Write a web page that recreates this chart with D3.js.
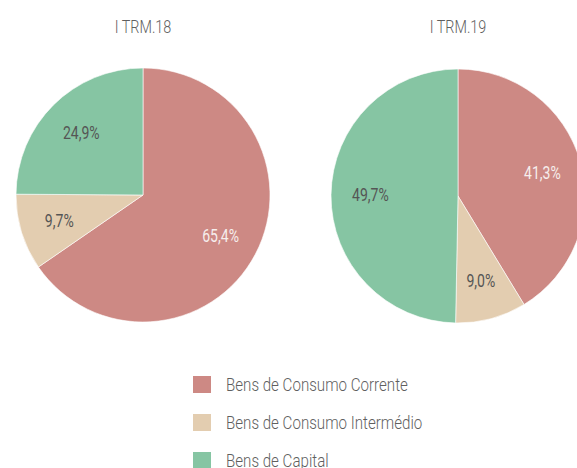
<!DOCTYPE html>
<html>
<head>
    <meta charset="utf-8">
    <script src="https://d3js.org/d3.v7.min.js"></script>
    <title>Bens importados</title>
</head>
<style>
    body { margin: 0; background: #fff; }
    text { font-family: 'Roboto'; font-weight: 300; }
    .lbl { font-weight: 400; }
</style>
<body>
<div id="chart"></div>
</body>
</html>

<script>
  // DATA
  var categories = ["Bens de Consumo Corrente", "Bens de Consumo Intermédio", "Bens de Capital"];
  var periods = ["I TRM.18", "I TRM.19"];
  var values18 = [65.4, 9.7, 24.9];
  var values19 = [41.3, 9.0, 49.7];
  var colors = ["#cd8984", "#e3cdb0", "#86c5a3"];
  var labelColors = ["#f6eeec", "#555555", "#555555"];

  var W = 577, H = 468, R = 127, SX = 0.8;

  var svg = d3.select("#chart").append("svg")
      .attr("width", W)
      .attr("height", H);

  var color = d3.scaleOrdinal().domain(categories).range(colors);
  var labelColor = d3.scaleOrdinal().domain(categories).range(labelColors);

  var pie = d3.pie().sort(null).value(function(d) { return d.value; });
  var arc = d3.arc().innerRadius(0).outerRadius(R);
  var labelArc = d3.arc().innerRadius(R * 0.69).outerRadius(R * 0.69);

  // condensed-looking text: squeeze horizontally
  function squeezeText(g, x, y, txt, size, fill, sx, cls) {
      g.append("g")
          .attr("transform", "translate(" + x + "," + y + ") scale(" + sx + ",1)")
        .append("text")
          .attr("class", cls || null)
          .attr("text-anchor", "middle")
          .attr("dy", "0.35em")
          .style("font-size", size + "px")
          .style("fill", fill)
          .text(txt);
  }

  var pies = [
      { title: periods[0], cx: 143, cy: 195, values: values18 },
      { title: periods[1], cx: 458, cy: 196, values: values19 }
  ];

  pies.forEach(function(p) {
      var data = categories.map(function(c, i) { return { cat: c, value: p.values[i] }; });
      var g = svg.append("g").attr("transform", "translate(" + p.cx + "," + p.cy + ")");

      g.selectAll("path")
          .data(pie(data))
          .enter()
          .append("path")
          .attr("d", arc)
          .attr("fill", function(d) { return color(d.data.cat); })
          .attr("stroke", "#fff")
          .attr("stroke-width", 0.6);

      pie(data).forEach(function(d) {
          var c = labelArc.centroid(d);
          squeezeText(g, c[0], c[1], d3.format(".1f")(d.data.value).replace(".", ",") + "%",
              18, labelColor(d.data.cat), 0.78, "lbl");
      });

      squeezeText(svg, p.cx, 27, p.title, 18, "#5f5f5f", SX);
  });

  // LEGEND
  var legend = svg.append("g").attr("transform", "translate(193,385)");
  var rows = legend.selectAll("g")
      .data(categories)
      .enter()
      .append("g")
      .attr("transform", function(d, i) { return "translate(0," + (i * 38) + ")"; });

  rows.append("rect")
      .attr("x", 0)
      .attr("y", -9)
      .attr("width", 18)
      .attr("height", 17)
      .attr("fill", function(d) { return color(d); });

  rows.append("g")
      .attr("transform", "translate(33,0) scale(0.84,1)")
    .append("text")
      .attr("dy", "0.35em")
      .style("font-size", "18px")
      .style("fill", "#5f5f5f")
      .text(function(d) { return d; });
</script>
